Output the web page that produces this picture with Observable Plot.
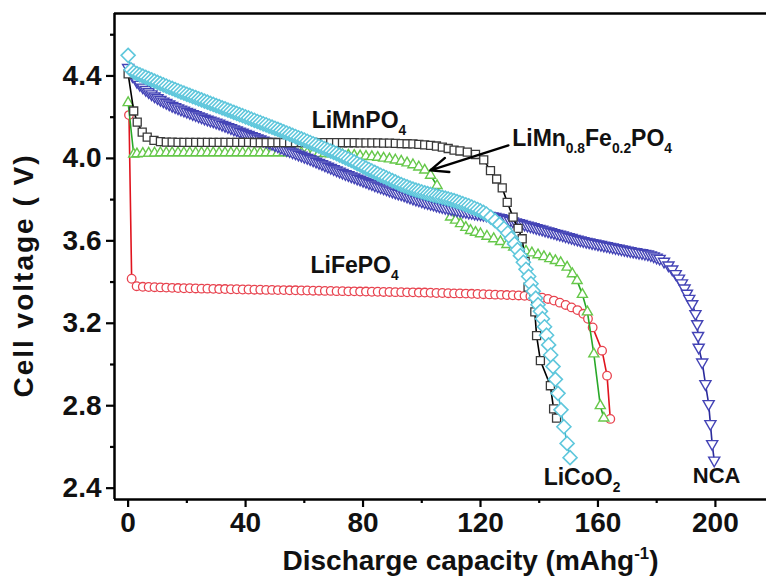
<!DOCTYPE html>
<html><head><meta charset="utf-8">
<script src="https://cdn.jsdelivr.net/npm/d3@7"></script>
<script src="https://cdn.jsdelivr.net/npm/@observablehq/plot@0.6"></script>
<style>body{margin:0;background:#fff;overflow:hidden}</style>
</head><body><div id="chart"></div>
<script>
// ---- data (discharge capacity mAh/g, cell voltage V) ----
const liFePO4 = [[0.3,4.21],[1.2,3.416],[2.9,3.38],[5,3.377],[7,3.376],[9,3.375],[11,3.374],[13,3.373],[15,3.372],[17,3.371],[19,3.37],[21,3.37],[23,3.369],[25,3.368],[27,3.368],[29,3.367],[31,3.366],[33,3.366],[35,3.365],[37,3.365],[39,3.364],[41,3.364],[43,3.363],[45,3.363],[47,3.362],[49,3.362],[51,3.361],[53,3.361],[55,3.36],[57,3.36],[59,3.359],[61,3.359],[63,3.358],[65,3.358],[67,3.357],[69,3.357],[71,3.356],[73,3.356],[75,3.355],[77,3.355],[79,3.354],[81,3.354],[83,3.353],[85,3.353],[87,3.352],[89,3.352],[91,3.351],[93,3.351],[95,3.35],[97,3.35],[99,3.349],[101,3.349],[103,3.348],[105,3.347],[107,3.347],[109,3.346],[111,3.345],[113,3.345],[115,3.344],[117,3.343],[119,3.342],[121,3.341],[123,3.34],[125,3.339],[127,3.338],[129,3.337],[131,3.336],[133,3.335],[135,3.333],[137,3.331],[139,3.328],[141,3.324],[143,3.318],[145,3.31],[147,3.30],[149,3.289],[151,3.277],[153,3.264],[155,3.246],[156.6,3.222],[158.2,3.18],[161.4,3.067],[163.1,2.946],[164.2,2.736]];
const liMnPO4 = [[0,4.41],[1.9,4.23],[3.1,4.176],[4.8,4.127],[6.5,4.103],[8.8,4.087],[11,4.081],[13,4.079],[15,4.079],[17,4.078],[19,4.078],[21,4.078],[23,4.078],[25,4.078],[27,4.078],[29,4.078],[31,4.078],[33,4.078],[35,4.078],[37,4.078],[39,4.078],[41,4.078],[43,4.077],[45,4.077],[47,4.077],[49,4.077],[51,4.077],[53,4.077],[55,4.077],[57,4.077],[59,4.077],[61,4.077],[63,4.077],[65,4.076],[67,4.076],[69,4.076],[71,4.076],[73,4.076],[75,4.076],[77,4.076],[79,4.075],[81,4.075],[83,4.075],[85,4.075],[87,4.074],[89,4.074],[91,4.073],[93,4.072],[95,4.071],[97,4.07],[99,4.068],[101,4.066],[103,4.063],[105,4.06],[107,4.055],[109,4.048],[111,4.04],[113,4.036],[115.5,4.03],[118.3,4.019],[121.1,3.993],[123.4,3.941],[125.5,3.90],[127.4,3.857],[129.1,3.787],[131.1,3.715],[132.8,3.66],[134.2,3.61],[135.2,3.50],[136.2,3.375],[138.5,3.255],[139.1,3.14],[140.4,3.019],[143.8,2.897],[144.9,2.785],[145.9,2.74]];
const liMnFePO4 = [[0,4.27],[1.9,4.02],[3,4.022],[5,4.024],[7,4.025],[9,4.026],[11,4.027],[13,4.027],[15,4.027],[17,4.027],[19,4.027],[21,4.027],[23,4.027],[25,4.027],[27,4.027],[29,4.027],[31,4.027],[33,4.027],[35,4.027],[37,4.027],[39,4.027],[41,4.027],[43,4.027],[45,4.027],[47,4.027],[49,4.027],[51,4.027],[53,4.027],[55,4.027],[57,4.027],[59,4.027],[61,4.026],[63,4.025],[65,4.024],[67,4.023],[69,4.022],[71,4.02],[73,4.018],[75,4.016],[77,4.014],[79,4.012],[81,4.01],[83,4.008],[85,4.005],[87,4.001],[89,3.997],[91,3.992],[93,3.986],[95,3.978],[97,3.969],[99,3.958],[101,3.943],[103,3.918],[105.2,3.868],[109.8,3.715],[111.5,3.70],[113.2,3.683],[115,3.665],[116.6,3.65],[118.3,3.641],[120,3.634],[122.2,3.622],[124.5,3.61],[126.8,3.596],[129,3.582],[131.3,3.569],[133.5,3.558],[135.5,3.55],[137.5,3.541],[139.6,3.532],[141.6,3.523],[143.6,3.513],[145.5,3.504],[147.3,3.494],[149.5,3.472],[151.3,3.44],[152.9,3.407],[154.7,3.34],[156.4,3.255],[158.6,3.051],[160.8,2.80],[162,2.74]];
const nca = [[0,4.44],[1.5,4.40],[3,4.372],[4,4.358],[5,4.345],[6,4.333],[7,4.322],[8,4.312],[9,4.302],[10,4.293],[11,4.285],[12,4.277],[13,4.27],[14,4.263],[15,4.256],[16,4.25],[17,4.244],[18,4.238],[19,4.233],[20,4.227],[21,4.222],[22,4.216],[23,4.211],[24,4.205],[25,4.2],[26,4.194],[27,4.189],[28,4.184],[29,4.18],[30,4.175],[31,4.17],[32,4.164],[33,4.159],[34,4.153],[35,4.148],[36,4.142],[37,4.137],[38,4.131],[39,4.126],[40,4.12],[41,4.115],[42,4.109],[43,4.104],[44,4.098],[45,4.093],[46,4.087],[47,4.082],[48,4.076],[49,4.071],[50,4.065],[51,4.059],[52,4.053],[53,4.047],[54,4.041],[55,4.036],[56,4.03],[57,4.025],[58,4.019],[59,4.014],[60,4.008],[61,4.003],[62,3.997],[63,3.991],[64,3.985],[65,3.979],[66,3.973],[67,3.967],[68,3.961],[69,3.955],[70,3.949],[71,3.943],[72,3.937],[73,3.931],[74,3.925],[75,3.92],[76,3.914],[77,3.909],[78,3.903],[79,3.898],[80,3.892],[81,3.887],[82,3.881],[83,3.876],[84,3.87],[85,3.865],[86,3.86],[87,3.855],[88,3.85],[89,3.845],[90,3.84],[91,3.835],[92,3.83],[93,3.826],[94,3.821],[95,3.816],[96,3.811],[97,3.806],[98,3.801],[99,3.797],[100,3.792],[101,3.788],[102,3.784],[103,3.78],[104,3.776],[105,3.772],[106,3.768],[107,3.765],[108,3.761],[109,3.758],[110,3.755],[111,3.752],[112,3.749],[113,3.746],[114,3.743],[115,3.741],[116,3.738],[117,3.736],[118,3.733],[119,3.731],[120,3.729],[121,3.727],[122,3.724],[123,3.722],[124,3.72],[125,3.717],[126,3.714],[127,3.711],[128,3.707],[129,3.703],[130,3.699],[131,3.695],[132,3.691],[133,3.687],[134,3.683],[135,3.679],[136,3.675],[137,3.671],[138,3.667],[139,3.663],[140,3.659],[141,3.655],[142,3.651],[143,3.647],[144,3.643],[145,3.639],[146,3.635],[147,3.631],[148,3.627],[149,3.623],[150,3.619],[151,3.615],[152,3.611],[153,3.607],[154,3.603],[155,3.6],[156,3.596],[157,3.593],[158,3.59],[159,3.587],[160,3.584],[161,3.581],[162,3.578],[163,3.575],[164,3.572],[165,3.569],[166,3.566],[167,3.563],[168,3.56],[169,3.557],[170,3.554],[171,3.551],[172,3.548],[173,3.546],[174,3.543],[175,3.541],[176,3.538],[177,3.535],[178,3.531],[179,3.526],[180,3.52],[181,3.514],[182.5,3.50],[184,3.482],[185.3,3.462],[186.5,3.44],[187.6,3.418],[188.6,3.395],[189.5,3.37],[190.3,3.345],[191.1,3.32],[192.1,3.294],[193.2,3.246],[193.8,3.197],[194.1,3.14],[194.3,3.083],[195.5,3.011],[196.6,2.906],[197.7,2.809],[198.3,2.712],[198.9,2.615],[199.6,2.535]];
const liCoO2 = [[0,4.50],[1,4.43],[2,4.418],[3,4.411],[4,4.405],[5,4.399],[6,4.393],[7,4.387],[8,4.381],[9,4.375],[10,4.369],[11,4.363],[12,4.357],[13,4.351],[14,4.345],[15,4.34],[16,4.334],[17,4.328],[18,4.322],[19,4.317],[20,4.311],[21,4.306],[22,4.30],[23,4.295],[24,4.289],[25,4.284],[26,4.278],[27,4.273],[28,4.267],[29,4.262],[30,4.256],[31,4.251],[32,4.245],[33,4.24],[34,4.234],[35,4.229],[36,4.223],[37,4.218],[38,4.212],[39,4.207],[40,4.201],[41,4.196],[42,4.19],[43,4.185],[44,4.179],[45,4.174],[46,4.168],[47,4.163],[48,4.157],[49,4.152],[50,4.146],[51,4.141],[52,4.135],[53,4.129],[54,4.123],[55,4.118],[56,4.112],[57,4.106],[58,4.10],[59,4.095],[60,4.089],[61,4.083],[62,4.077],[63,4.071],[64,4.065],[65,4.059],[66,4.053],[67,4.047],[68,4.041],[69,4.035],[70,4.029],[71,4.023],[72,4.016],[73,4.01],[74,4.003],[75,3.997],[76,3.99],[77,3.983],[78,3.975],[79,3.968],[80,3.96],[81,3.953],[82,3.946],[83,3.939],[84,3.932],[85,3.925],[86,3.918],[87,3.912],[88,3.905],[89,3.899],[90,3.892],[91,3.886],[92,3.879],[93,3.873],[94,3.867],[95,3.862],[96,3.856],[97,3.851],[98,3.846],[99,3.842],[100,3.837],[101,3.833],[102,3.829],[103,3.825],[104,3.821],[105,3.818],[106,3.814],[107,3.811],[108,3.807],[109,3.803],[110,3.799],[111,3.795],[112,3.79],[113,3.785],[114,3.78],[115,3.775],[116,3.77],[117,3.764],[118,3.758],[119,3.752],[120,3.745],[121,3.738],[122,3.73],[123.5,3.715],[125,3.698],[126.5,3.68],[128,3.66],[129.3,3.638],[130.5,3.612],[131.6,3.585],[132.6,3.557],[133.6,3.528],[134.6,3.496],[135.5,3.462],[136.4,3.427],[137.2,3.392],[138,3.356],[138.8,3.322],[139.6,3.29],[140.4,3.258],[141.1,3.222],[141.8,3.183],[142.5,3.142],[143.2,3.095],[143.9,3.046],[144.7,2.99],[145.5,2.928],[146.4,2.86],[147.4,2.78],[148.4,2.698],[149.5,2.617],[150.5,2.548]];

const xTicks = [0, 40, 80, 120, 160, 200];
const xMinorTicks = [20, 60, 100, 140, 180];
const yTicks = [2.4, 2.8, 3.2, 3.6, 4.0, 4.4];
const yMinorTicks = [2.6, 3.0, 3.4, 3.8, 4.2, 4.6];
const seriesNames = ["LiMnPO_{4}", "LiMn_{0.8}Fe_{0.2}PO_{4}", "LiFePO_{4}", "LiCoO_{2}", "NCA"];
const xTitle = "Discharge capacity (mAhg^{-1})";
const yTitle = "Cell voltage ( V)";

// ---- layout / annotation placement ----
const xDomain = [-4.64, 217.4];
const yDomain = [2.345, 4.703];
const labelPos = [[62.5, 4.184], [130.8, 4.095], [62.1, 3.48], [141.5, 2.452], [200.4, 2.461]];
const arrowSeg = [[129.5, 4.063, 102.9, 3.942]];

const triangleDown = {
  draw(ctx, size) {
    const s = Math.sqrt(size) * 0.6824, t = s / 2, u = s * Math.sqrt(3) / 2;
    ctx.moveTo(0, s); ctx.lineTo(u, -t); ctx.lineTo(-u, -t); ctx.closePath();
  }
};

const labelData = seriesNames.map((t, i) => ({t, x: labelPos[i][0], y: labelPos[i][1]}));
const font = "'Liberation Sans', Arial, Helvetica, sans-serif";

function series(data, lineColor, dotColor, symbol, r, sw) {
  return [
    Plot.line(data, {stroke: lineColor, strokeWidth: 1.6}),
    Plot.dot(data, {symbol, r, stroke: dotColor, fill: "white", strokeWidth: sw})
  ];
}

const chart = Plot.plot({
  width: 766, height: 584,
  marginLeft: 114, marginRight: 0, marginTop: 13, marginBottom: 85,
  x: {domain: xDomain},
  y: {domain: yDomain},
  style: {fontFamily: font, background: "#fff", overflow: "visible"},
  marks: [
    ...series(liFePO4, "#e0141e", "#e8434f", "circle", 4.3, 1.3),
    ...series(liMnFePO4, "#28a828", "#66c84a", "triangle2", 4.8, 1.4),
    ...series(nca, "#2b2b9c", "#4444b6", triangleDown, 5.3, 1.4),
    ...series(liMnPO4, "#000000", "#3a3a3a", "square2", 5.1, 1.3),
    ...series(liCoO2, "#3db5cc", "#5fc7dc", "diamond2", 6.3, 1.6),
    Plot.ruleY([yDomain[0], yDomain[1]], {stroke: "#000", strokeWidth: 2.5}),
    Plot.ruleX([xDomain[0]], {stroke: "#000", strokeWidth: 2.5}),
    Plot.axisX(xTicks, {tickSize: 8, tickPadding: 5, strokeWidth: 2.2, fontSize: 28, fontWeight: "bold", fill: "#111", label: null}),
    Plot.axisX(xMinorTicks, {tickSize: 4, strokeWidth: 2.2, text: null, label: null}),
    Plot.axisY(yTicks, {tickSize: 8, tickPadding: 5, strokeWidth: 2.2, fontSize: 28, fontWeight: "bold", fill: "#111", tickFormat: d3.format(".1f"), label: null}),
    Plot.axisY(yMinorTicks, {tickSize: 4, strokeWidth: 2.2, text: null, label: null}),
    Plot.arrow(arrowSeg, {x1: d => d[0], y1: d => d[1], x2: d => d[2], y2: d => d[3], stroke: "#000", strokeWidth: 2.4, headLength: 12, headAngle: 45}),
    Plot.text(labelData.slice(0, 4), {x: "x", y: "y", text: "t", textAnchor: "start", lineAnchor: "middle", fontSize: 23, fontWeight: "bold", fill: "#111"}),
    Plot.text(labelData.slice(4), {x: "x", y: "y", text: "t", textAnchor: "middle", lineAnchor: "middle", fontSize: 22, fontWeight: "bold", fill: "#111"}),
    Plot.text([xTitle], {frameAnchor: "bottom", textAnchor: "middle", lineAnchor: "middle", dx: 30, dy: 62, fontSize: 28, fontWeight: "bold", fill: "#111"}),
    Plot.text([yTitle], {frameAnchor: "left", textAnchor: "middle", lineAnchor: "middle", rotate: -90, dx: -90, dy: 19, fontSize: 28, fontWeight: "bold", fill: "#111"})
  ]
});

document.getElementById("chart").appendChild(chart);

chart.querySelectorAll("text").forEach(t => {
  // the reference sets the y-axis title a little wider
  if (t.textContent === yTitle) t.setAttribute("letter-spacing", "2");
  // sub/superscripts: "_{..}" and "^{..}"
  const s = t.textContent;
  if (!/[_^]\{/.test(s)) return;
  const fs = parseFloat(getComputedStyle(t).fontSize) || 20;
  while (t.firstChild) t.removeChild(t.firstChild);
  const re = /([_^])\{([^}]*)\}|([^_^]+)/g;
  let m, shift = 0;
  while ((m = re.exec(s))) {
    const ts = document.createElementNS("http://www.w3.org/2000/svg", "tspan");
    let target = 0;
    if (m[1]) {
      target = m[1] === "_" ? fs * 0.3 : -fs * 0.42;
      ts.setAttribute("font-size", (fs * 0.6).toFixed(1));
      ts.textContent = m[2];
    } else ts.textContent = m[3];
    ts.setAttribute("dy", (target - shift).toFixed(1));
    shift = target;
    t.appendChild(ts);
  }
});
</script></body></html>
